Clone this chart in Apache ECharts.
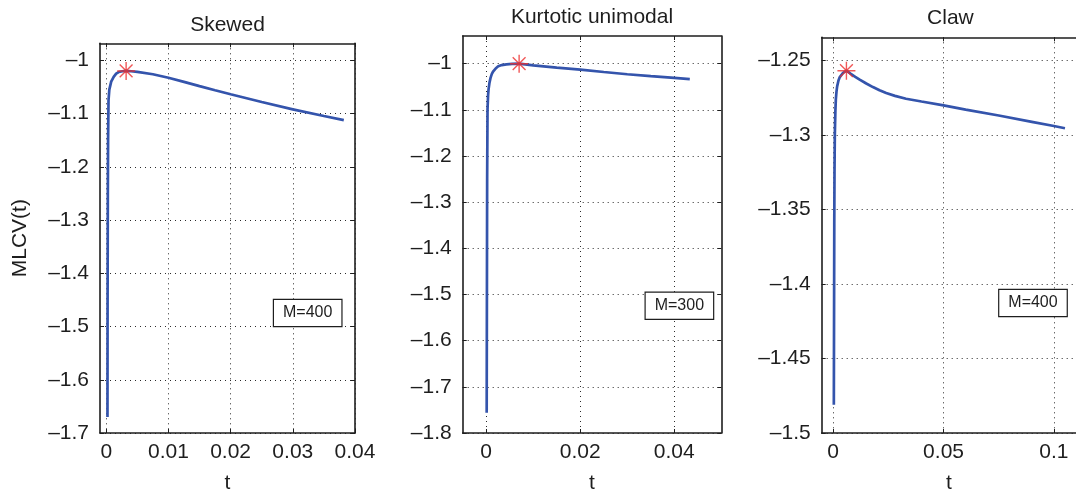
<!DOCTYPE html>
<html>
<head>
<meta charset="utf-8">
<title>MLCV(t)</title>
<script src="https://cdn.jsdelivr.net/npm/echarts@6/dist/echarts.min.js"></script>
<style>
  html, body { margin: 0; padding: 0; background: #ffffff; }
  #chart { width: 1076px; height: 499px; }
</style>
</head>
<body>
<div id="chart"></div>
<script>
// ---- data -------------------------------------------------------------
const titles = ['Skewed', 'Kurtotic unimodal', 'Claw'];
const boxLabels = ['M=400', 'M=300', 'M=400'];

// Skewed density
const tSkew = [0.0002, 0.00022, 0.00026, 0.0003, 0.00037, 0.0005, 0.0008, 0.0012, 0.0016, 0.002,
  0.0026, 0.0032, 0.004, 0.005, 0.0075, 0.01, 0.0125, 0.015, 0.0175, 0.02,
  0.025, 0.03, 0.035, 0.0382];
const ySkew = [-1.67, -1.45, -1.25, -1.15, -1.075, -1.055, -1.040, -1.031, -1.025, -1.022,
  -1.0205, -1.0199, -1.0205, -1.0218, -1.0262, -1.0328, -1.0405, -1.0484, -1.0562, -1.0638,
  -1.0782, -1.0920, -1.1045, -1.1124];
const peakSkew = [0.0032, -1.0199];

// Kurtotic unimodal density
const tKurt = [0.0001, 0.00015, 0.0002, 0.00028, 0.0004, 0.0005, 0.0007, 0.00092, 0.0012, 0.0015,
  0.002, 0.00255, 0.0033, 0.0043, 0.0055, 0.007, 0.01, 0.015, 0.02, 0.025, 0.03, 0.035,
  0.04, 0.0433];
const yKurt = [-1.756, -1.50, -1.25, -1.099, -1.068, -1.0557, -1.041, -1.0307, -1.022, -1.0164,
  -1.0105, -1.0057, -1.003, -1.0014, -1.0004, -1.000, -1.0036, -1.0086, -1.0129, -1.018, -1.0229, -1.027,
  -1.0307, -1.0336];
const peakKurt = [0.007, -1.000];

// Claw density
const tClaw = [0.0003, 0.0004, 0.0005, 0.0006, 0.00075, 0.001, 0.0012, 0.0015, 0.0018, 0.0024,
  0.003, 0.0045, 0.006, 0.008, 0.010, 0.012, 0.015, 0.018, 0.021, 0.024, 0.028, 0.033,
  0.04, 0.05, 0.06, 0.075, 0.09, 0.1, 0.105];
const yClaw = [-1.481, -1.42, -1.36, -1.325, -1.30, -1.284, -1.2763, -1.271, -1.2674, -1.2635,
  -1.2612, -1.2583, -1.2569, -1.2590, -1.2610, -1.2629, -1.2655, -1.2679, -1.2700, -1.2719, -1.2738, -1.2757,
  -1.2776, -1.2802, -1.2830, -1.2870, -1.2912, -1.2940, -1.2955];
const peakClaw = [0.006, -1.2569];

// tick positions
const xTicks = [[0, 0.01, 0.02, 0.03, 0.04], [0, 0.02, 0.04], [0, 0.05, 0.1]];
const yTicks = [
  [-1.7, -1.6, -1.5, -1.4, -1.3, -1.2, -1.1, -1.0],
  [-1.8, -1.7, -1.6, -1.5, -1.4, -1.3, -1.2, -1.1, -1.0],
  [-1.5, -1.45, -1.4, -1.35, -1.3, -1.25]
];

// ---- layout ------------------------------------------------------------
const FONT = '"Liberation Sans", Arial, Helvetica, sans-serif';
const INK = '#1e1e1e';
const LINE = '#3454ac';
const STAR = '#ee2e2e';

const grids = [
  { left: 100, top: 43.3, width: 255, height: 393.7 },
  { left: 462.7, top: 36, width: 258.6, height: 401 },
  { left: 821.7, top: 37.3, width: 257.4, height: 399.7 }
];
const xRanges = [[-0.001, 0.04], [-0.005, 0.05], [-0.0052, 0.11]];
const yRanges = [[-1.7, -0.968], [-1.8, -0.94], [-1.5, -1.2345]];
const titleY = [24.8, 17.5, 18];
const boxPos = [[274, 300], [645.7, 292.7], [999.3, 290]];
const showRightBorder = [true, true, false];

const curves = [[tSkew, ySkew], [tKurt, yKurt], [tClaw, yClaw]];
const peaks = [peakSkew, peakKurt, peakClaw];

function fmt(v) {
  const a = +Math.abs(v).toFixed(3);
  return (v < -1e-12 ? '\u2013' : '') + String(a);
}

const xAxes = [], yAxes = [], series = [], graphics = [];

grids.forEach(function (g, i) {
  // bottom axis with labels and dotted grid
  xAxes.push({
    type: 'value', gridIndex: i, position: 'bottom',
    min: xRanges[i][0], max: xRanges[i][1],
    name: 't', nameLocation: 'middle', nameGap: 40,
    nameTextStyle: { fontFamily: FONT, fontSize: 21, color: INK },
    axisLine: { show: true, onZero: false, lineStyle: { color: INK, width: 1.6 } },
    axisTick: { show: true, inside: true, length: 4, customValues: xTicks[i], lineStyle: { color: INK, width: 1 } },
    axisLabel: { show: true, customValues: xTicks[i], formatter: fmt, margin: 9,
      fontFamily: FONT, fontSize: 21, color: INK },
    splitLine: { show: true, lineStyle: { color: '#2a2a2a', width: 1, type: [1, 4] } }
  });
  // top border
  xAxes.push({
    type: 'value', gridIndex: i, position: 'top',
    min: xRanges[i][0], max: xRanges[i][1],
    axisLine: { show: true, onZero: false, lineStyle: { color: INK, width: 1.6 } },
    axisTick: { show: true, inside: true, length: 4, customValues: xTicks[i], lineStyle: { color: INK, width: 1 } },
    axisLabel: { show: false },
    splitLine: { show: false }
  });
  // left axis
  const yLeft = {
    type: 'value', gridIndex: i, position: 'left',
    min: yRanges[i][0], max: yRanges[i][1],
    axisLine: { show: true, onZero: false, lineStyle: { color: INK, width: 1.6 } },
    axisTick: { show: true, inside: true, length: 4, customValues: yTicks[i], lineStyle: { color: INK, width: 1 } },
    axisLabel: { show: true, customValues: yTicks[i], formatter: fmt, margin: 11,
      fontFamily: FONT, fontSize: 21, color: INK },
    splitLine: { show: true, lineStyle: { color: '#2a2a2a', width: 1, type: [1, 4] } }
  };
  if (i === 0) {
    yLeft.name = 'MLCV(t)';
    yLeft.nameLocation = 'middle';
    yLeft.nameGap = 69;
    yLeft.nameTextStyle = { fontFamily: FONT, fontSize: 21, color: INK };
  }
  yAxes.push(yLeft);
  // right border
  yAxes.push({
    type: 'value', gridIndex: i, position: 'right', show: showRightBorder[i],
    min: yRanges[i][0], max: yRanges[i][1],
    axisLine: { show: true, onZero: false, lineStyle: { color: INK, width: 1.6 } },
    axisTick: { show: true, inside: true, length: 4, customValues: yTicks[i], lineStyle: { color: INK, width: 1 } },
    axisLabel: { show: false },
    splitLine: { show: false }
  });

  const tv = curves[i][0], yv = curves[i][1];
  series.push({
    type: 'line', xAxisIndex: 2 * i, yAxisIndex: 2 * i,
    data: tv.map(function (t, k) { return [t, yv[k]]; }),
    showSymbol: false, smooth: false, clip: true,
    lineStyle: { color: LINE, width: 2.7 },
    z: 3
  });
  series.push({
    type: 'scatter', xAxisIndex: 2 * i, yAxisIndex: 2 * i,
    data: [peaks[i]],
    symbol: 'path://M8 0L8 16M0 8L16 8M2.3 2.3L13.7 13.7M2.3 13.7L13.7 2.3',
    symbolSize: 18,
    itemStyle: { color: 'transparent', borderColor: STAR, borderWidth: 1.4 },
    z: 4
  });

  graphics.push({
    type: 'text', x: g.left + g.width / 2, y: titleY[i],
    style: { text: titles[i], align: 'center', verticalAlign: 'middle',
      font: '21px ' + FONT, fill: INK }
  });
  graphics.push({
    type: 'text', x: boxPos[i][0], y: boxPos[i][1], z: 10,
    style: { text: boxLabels[i], font: '16px ' + FONT, fill: INK,
      backgroundColor: '#ffffff', borderColor: INK, borderWidth: 1.2,
      padding: [5, 9] }
  });
});

const chart = echarts.init(document.getElementById('chart'), null, { renderer: 'canvas' });
chart.setOption({
  backgroundColor: '#ffffff',
  animation: false,
  grid: grids.map(function (g) { return Object.assign({ containLabel: false }, g); }),
  xAxis: xAxes,
  yAxis: yAxes,
  series: series,
  graphic: graphics
});
</script>
</body>
</html>
